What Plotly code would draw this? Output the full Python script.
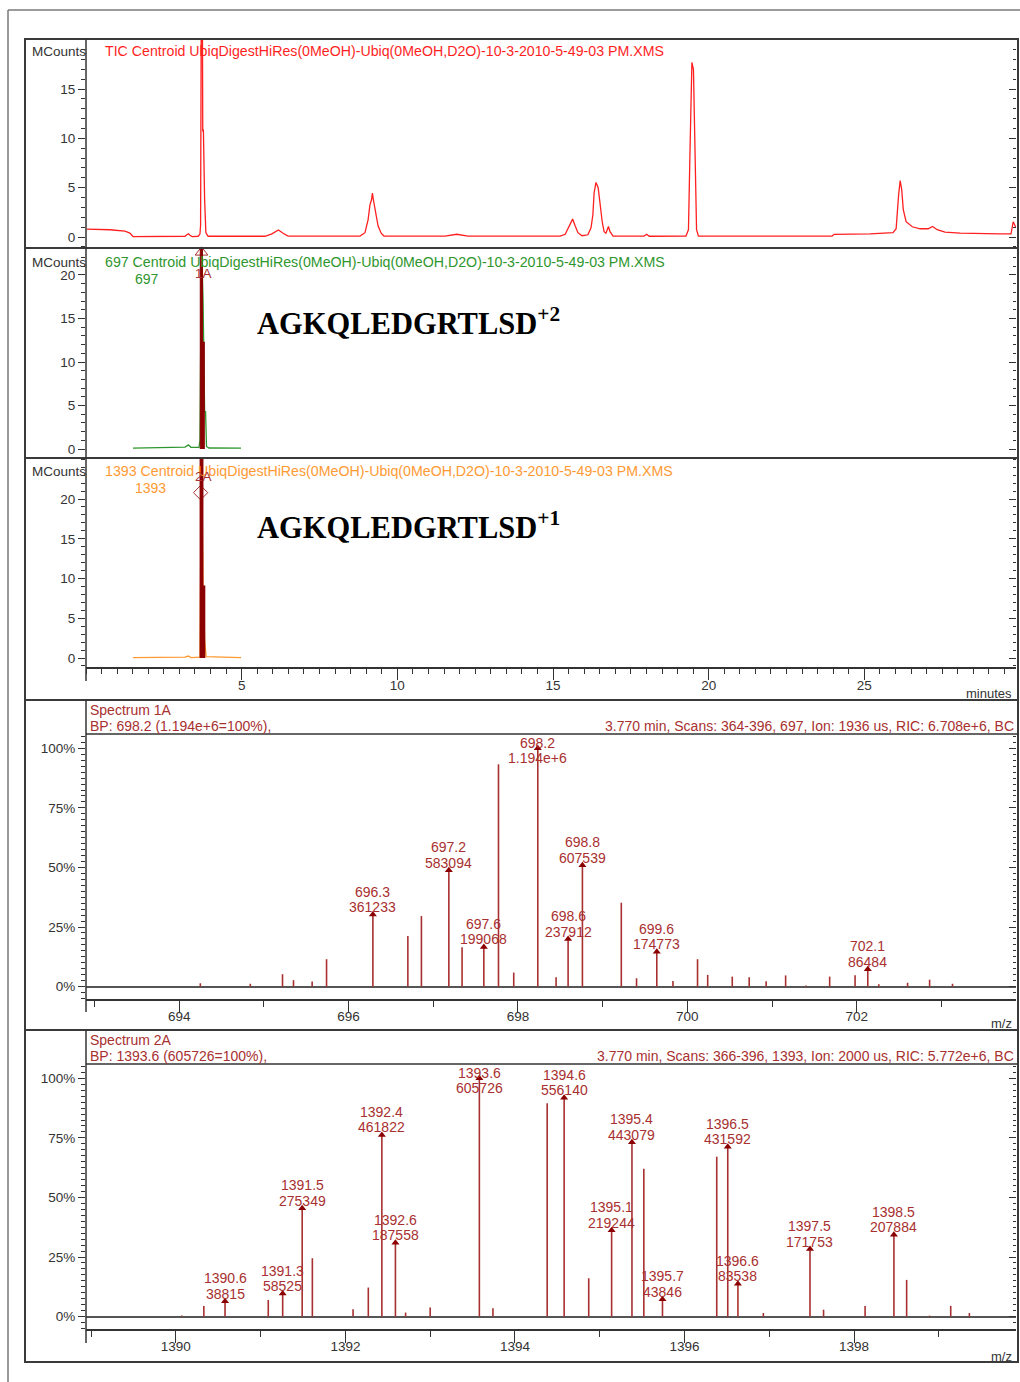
import plotly.graph_objects as go

W, H = 1020, 1382
def PX(p): return p / W
def PY(p): return 1 - p / H

SANS = "Liberation Sans, Arial, sans-serif"
SERIF = "Liberation Serif, Times New Roman, serif"

# ---------------- data ----------------
tic_time = [0.02, 0.77, 1.25, 1.41, 1.51, 2.38, 3.18, 3.24, 3.29, 3.34, 3.41, 3.60, 3.66,
            3.68, 3.70, 3.74, 3.75, 3.77, 3.81, 3.85, 3.92, 5.75, 5.97, 6.18, 6.33, 6.49,
            8.80, 8.96, 9.06, 9.12, 9.17, 9.20, 9.23, 9.27, 9.32, 9.38, 9.48, 9.57, 11.53,
            11.91, 12.27, 15.23, 15.39, 15.48, 15.63, 15.71, 15.80, 15.93, 16.12, 16.22,
            16.28, 16.32, 16.38, 16.45, 16.51, 16.58, 16.64, 16.70, 16.78, 16.83, 16.93,
            17.92, 18.01, 18.09, 19.27, 19.35, 19.40, 19.46, 19.51, 19.56, 19.61, 19.67,
            23.96, 24.03, 25.18, 25.92, 26.02, 26.10, 26.15, 26.20, 26.25, 26.34, 26.54,
            26.79, 27.05, 27.19, 27.34, 27.59, 28.08, 29.36, 29.71, 29.78, 29.83, 29.87]
tic_mcounts = [0.81, 0.74, 0.59, 0.40, 0.05, 0.05, 0.08, 0.23, 0.33, 0.18, 0.05, 0.08, 0.30,
               1.2, 21.0, 21.0, 10.7, 10.9, 3.8, 0.45, 0.08, 0.08, 0.33, 0.71, 0.39, 0.10,
               0.10, 0.44, 1.75, 3.27, 3.78, 4.46, 3.78, 3.07, 2.36, 1.14, 0.39, 0.10, 0.10,
               0.28, 0.10, 0.10, 0.28, 0.84, 1.82, 1.14, 0.44, 0.13, 0.23, 0.94,
               2.26, 4.49, 5.53, 5.00, 3.27, 1.55, 0.54, 0.39, 1.07, 0.54, 0.10,
               0.10, 0.28, 0.08, 0.10, 0.74, 8.8, 17.7, 17.0, 6.8, 0.74, 0.10,
               0.10, 0.28, 0.33, 0.44, 0.84, 4.29, 5.73, 4.79, 2.77, 1.55, 1.04,
               0.84, 0.84, 1.07, 0.74, 0.49, 0.39, 0.33, 0.33, 1.55, 1.25, 0.94]

eic697_time = [1.51, 3.02, 3.18, 3.29, 3.37, 3.63, 3.66, 3.71, 3.76, 3.81, 3.84, 3.87, 3.95, 4.98]
eic697_mcounts = [0.10, 0.17, 0.23, 0.48, 0.20, 0.20, 1.0, 24.0, 17.0, 4.3, 4.3, 0.3, 0.12, 0.10]
peak1A_time = [3.67, 3.67, 3.74, 3.74, 3.80, 3.80]
peak1A_mcounts = [0, 24.0, 24.0, 12.3, 12.3, 0]

eic1393_time = [1.51, 3.18, 3.29, 3.37, 3.66, 3.71, 3.76, 3.81, 3.86, 4.98]
eic1393_mcounts = [0.04, 0.10, 0.25, 0.06, 0.10, 26.0, 9.9, 2.3, 0.16, 0.04]
peak2A_time = [3.68, 3.68, 3.74, 3.74, 3.80, 3.80]
peak2A_mcounts = [0, 26.0, 26.0, 9.0, 9.0, 0]

spec1_base = 1194000
spec1_mz = [694.25, 694.84, 695.22, 695.35, 695.57, 695.74, 696.70, 696.86, 697.34, 697.77,
            697.95, 698.45, 699.22, 699.40, 699.83, 700.12, 700.24, 700.53, 700.73, 700.93,
            701.16, 701.40, 701.68, 701.98, 702.26, 702.60, 702.86, 703.13]
spec1_pct = [1.4, 1.2, 5.2, 2.7, 2.1, 11.5, 21.2, 29.6, 16.5, 93.3,
             5.9, 3.9, 35.2, 3.5, 2.4, 11.5, 4.9, 4.2, 3.9, 2.2,
             4.7, 0.5, 4.2, 4.8, 1.0, 1.6, 2.9, 1.2]
spec1_label_mz = [696.287, 697.184, 697.597, 698.234, 698.592, 698.761, 699.639, 702.130]
spec1_label_counts = [361233, 583094, 199068, 1194000, 237912, 607539, 174773, 86484]

spec2_base = 605726
spec2_mz = [1390.07, 1390.33, 1391.09, 1391.61, 1392.09, 1392.27, 1392.71, 1393.00, 1393.74,
            1394.38, 1394.87, 1395.52, 1396.38, 1396.93, 1397.64, 1398.13, 1398.62, 1398.89,
            1399.14, 1399.36]
spec2_pct = [0.5, 4.5, 7.0, 24.5, 3.1, 12.2, 1.7, 3.8, 3.5,
             89.5, 16.1, 62.0, 67.1, 1.5, 2.9, 4.5, 15.4, 0.4,
             4.5, 1.5]
spec2_label_mz = [1390.58, 1391.26, 1391.49, 1392.43, 1392.59, 1393.58, 1394.58, 1395.14,
                  1395.38, 1395.74, 1396.51, 1396.63, 1397.48, 1398.47]
spec2_label_counts = [38815, 58525, 275349, 461822, 187558, 605726, 556140, 219244,
                      443079, 43846, 431592, 83538, 171753, 207884]

chrom_ticks = [0, 5, 10, 15, 20]
chrom_xticks = [5, 10, 15, 20, 25]
pct_ticks = [0, 25, 50, 75, 100]
spec1_xticks = [694, 696, 698, 700, 702]
spec2_xticks = [1390, 1392, 1394, 1396, 1398]

# ---------------- colours ----------------
RED = "#ff1f1f"
GREEN = "#2e962e"
ORANGE = "#ff9a33"
BROWN = "#a83030"
DARKRED = "#8b0000"
AX = "#333333"

fig = go.Figure()

def stick_xy(mz, pct):
    xs, ys = [], []
    for m, p in zip(mz, pct):
        xs += [m, m, None]
        ys += [0, p, None]
    return xs, ys

# chromatograms
fig.add_trace(go.Scatter(x=tic_time, y=tic_mcounts, mode="lines", line=dict(color=RED, width=1.3),
                         xaxis="x", yaxis="y", showlegend=False))
fig.add_trace(go.Scatter(x=eic697_time, y=eic697_mcounts, mode="lines", line=dict(color=GREEN, width=1.3),
                         xaxis="x2", yaxis="y3", showlegend=False))
fig.add_trace(go.Scatter(x=[3.71], y=[22.6], mode="markers", cliponaxis=False,
                         marker=dict(symbol="triangle-up-open", size=11, color=BROWN, line=dict(width=1)),
                         xaxis="x2", yaxis="y3", showlegend=False))
fig.add_trace(go.Scatter(x=peak1A_time, y=peak1A_mcounts, mode="lines", fill="toself", fillcolor=DARKRED,
                         line=dict(color=DARKRED, width=1), xaxis="x2", yaxis="y3", showlegend=False))
fig.add_trace(go.Scatter(x=eic1393_time, y=eic1393_mcounts, mode="lines", line=dict(color=ORANGE, width=1.3),
                         xaxis="x3", yaxis="y5", showlegend=False))
fig.add_trace(go.Scatter(x=[3.68], y=[20.8], mode="markers", cliponaxis=False,
                         marker=dict(symbol="diamond-open", size=11, color=BROWN, line=dict(width=1)),
                         xaxis="x3", yaxis="y5", showlegend=False))
fig.add_trace(go.Scatter(x=peak2A_time, y=peak2A_mcounts, mode="lines", fill="toself", fillcolor=DARKRED,
                         line=dict(color=DARKRED, width=2), xaxis="x3", yaxis="y5", showlegend=False))

# spectra
for mz, pct, lmz, lcounts, base, xa, ya in [
        (spec1_mz, spec1_pct, spec1_label_mz, spec1_label_counts, spec1_base, "x4", "y7"),
        (spec2_mz, spec2_pct, spec2_label_mz, spec2_label_counts, spec2_base, "x5", "y9")]:
    lpct = [c / base * 100 for c in lcounts]
    xs, ys = stick_xy(mz + lmz, pct + lpct)
    fig.add_trace(go.Scatter(x=xs, y=ys, mode="lines", line=dict(color=BROWN, width=1.6),
                             xaxis=xa, yaxis=ya, showlegend=False))
    fig.add_trace(go.Scatter(x=lmz, y=lpct, mode="markers", cliponaxis=False,
                             marker=dict(symbol="triangle-up", size=7, color=DARKRED),
                             xaxis=xa, yaxis=ya, showlegend=False))
    for m, c, p in zip(lmz, lcounts, lpct):
        top = min(p, 92.6)
        ctext = f"{c/1e6:.3f}e+6" if c >= 1e6 else str(c)
        for txt, sh in [(f"{m:.1f}", 23), (ctext, 7.5)]:
            fig.add_annotation(x=m, y=top, xref=xa, yref=ya, text=txt, showarrow=False,
                               yanchor="middle", yshift=sh,
                               font=dict(family=SANS, size=14, color=BROWN))

# empty traces for right-side tick axes
for ya, xa in [("y2", "x"), ("y4", "x2"), ("y6", "x3"), ("y8", "x4"), ("y10", "x5")]:
    fig.add_trace(go.Scatter(x=[None], y=[None], xaxis=xa, yaxis=ya, showlegend=False))

XD = [PX(86), PX(1016)]

def left_y(dom, rng, tickvals, minor_dt, suffix=""):
    return dict(domain=[PY(dom[1]), PY(dom[0])], range=rng, tickmode="array", tickvals=tickvals,
                ticktext=[f"{v}{suffix}" for v in tickvals], ticks="outside",
                ticklen=7, tickwidth=1.2, tickcolor=AX, showgrid=False, zeroline=False,
                showline=False,
                tickfont=dict(family=SANS, size=13.5, color=AX),
                minor=dict(dtick=minor_dt, ticks="outside", ticklen=4, tickcolor=AX, tickwidth=1, showgrid=False))

def right_y(over, anchor, rng, tickvals, minor_dt):
    return dict(overlaying=over, anchor=anchor, side="right", range=rng, tickvals=tickvals,
                ticks="inside", ticklen=7, tickwidth=1.2, tickcolor=AX, showticklabels=False,
                showgrid=False, zeroline=False, showline=False,
                minor=dict(dtick=minor_dt, ticks="inside", ticklen=3, tickcolor=AX, tickwidth=1, showgrid=False))

def hidden_x(anchor, rng):
    return dict(domain=XD, anchor=anchor, range=rng, showticklabels=False, ticks="",
                showgrid=False, zeroline=False, showline=False)

def bottom_x(anchor, rng, tickvals, minor_dt, ticklen, minorlen, standoff):
    return dict(domain=XD, anchor=anchor, range=rng, tickvals=tickvals, ticks="outside",
                ticklen=ticklen, tickwidth=1.2, tickcolor=AX, showline=True, linecolor=AX, linewidth=1.5,
                showgrid=False, zeroline=False, ticklabelstandoff=standoff,
                tickfont=dict(family=SANS, size=13.5, color=AX),
                minor=dict(dtick=minor_dt, ticks="outside", ticklen=minorlen, tickcolor=AX, tickwidth=1,
                           showgrid=False))

r1 = [-1.11, 20.07]
r2 = [-1.03, 23.1]
r3 = [-1.13, 25.16]
rs = [-5.2, 106]
trange = [0, 29.87]

layout = dict(
    width=W, height=H, margin=dict(l=0, r=0, t=0, b=0),
    paper_bgcolor="white", plot_bgcolor="rgba(0,0,0,0)", showlegend=False,
    font=dict(family=SANS, color=AX),
    xaxis=hidden_x("y", trange),
    yaxis=left_y((39, 248), r1, chrom_ticks[:4], 1),
    yaxis2=right_y("y", "x", r1, chrom_ticks[:4], 1),
    xaxis2=hidden_x("y3", trange),
    yaxis3=left_y((248, 458), r2, chrom_ticks, 1),
    yaxis4=right_y("y3", "x2", r2, chrom_ticks, 1),
    xaxis3=bottom_x("y5", trange, chrom_xticks, 0.5, 11, 5, -6),
    yaxis5=left_y((458, 667), r3, chrom_ticks, 1),
    yaxis6=right_y("y5", "x3", r3, chrom_ticks, 1),
    xaxis4=bottom_x("y7", [692.90, 703.88], spec1_xticks, 1, 12, 6, -8),
    yaxis7=dict(left_y((734, 999), rs, pct_ticks, 2.5, "%"), zeroline=True, zerolinecolor="#555555",
                zerolinewidth=1.5),
    yaxis8=right_y("y7", "x4", rs, pct_ticks, 2.5),
    xaxis5=bottom_x("y9", [1388.94, 1399.91], spec2_xticks, 1, 12, 6, -8),
    yaxis9=dict(left_y((1064, 1329), rs, pct_ticks, 2.5, "%"), zeroline=True, zerolinecolor="#555555",
                zerolinewidth=1.5),
    yaxis10=right_y("y9", "x5", rs, pct_ticks, 2.5),
)
fig.update_layout(**layout)

# ---------------- frames / lines ----------------
shapes = []
def line(x0, y0, x1, y1, color=AX, width=1.5):
    shapes.append(dict(type="line", xref="paper", yref="paper", x0=PX(x0), y0=PY(y0), x1=PX(x1), y1=PY(y1),
                       line=dict(color=color, width=width), layer="above"))
# outer frame
line(8, 10, 8, 1382, "#7a7a7a", 1.5)
line(8, 10, 1020, 10, "#7a7a7a", 1.5)
# panel boxes
for y0, y1 in [(39, 248), (248, 458), (458, 700), (700, 1030), (1030, 1362)]:
    shapes.append(dict(type="rect", xref="paper", yref="paper", x0=PX(25), x1=PX(1018), y0=PY(y1), y1=PY(y0),
                       line=dict(color="#3a3a3a", width=2), layer="above"))
# y-axis lines
line(86, 39, 86, 681)
line(86, 700, 86, 1012)
line(86, 1030, 86, 1343)
# spectrum plot tops
line(86, 734, 1018, 734)
line(86, 1064, 1018, 1064)
fig.update_layout(shapes=shapes)

# ---------------- texts ----------------
def note(text, x, y, color=AX, size=13, xanchor="left", family=SANS):
    fig.add_annotation(text=text, x=PX(x), y=PY(y), xref="paper", yref="paper", showarrow=False,
                       xanchor=xanchor, yanchor="middle", font=dict(family=family, size=size, color=color))

title_tail = "Centroid UbiqDigestHiRes(0MeOH)-Ubiq(0MeOH,D2O)-10-3-2010-5-49-03 PM.XMS"
for y, col, name in [(51, RED, "TIC"), (262, GREEN, "697"), (471, ORANGE, "1393")]:
    note("MCounts", 30, y, AX, 13.5)
    note(f"{name} {title_tail}", 103, y, col, 14.2)
note("697", 133, 279, GREEN, 14)
note("1393", 133, 488, ORANGE, 14)
note("1A", 203, 274, BROWN, 13.5, "center")
note("2A", 203, 477, BROWN, 13.5, "center")
note("<b>AGKQLEDGRTLSD<sup>+2</sup></b>", 255, 321, "black", 30.5, "left", SERIF)
note("<b>AGKQLEDGRTLSD<sup>+1</sup></b>", 255, 525, "black", 30.5, "left", SERIF)
note("minutes", 1014, 693, AX, 13, "right")

note("Spectrum 1A", 88, 710, BROWN, 14)
note("BP: 698.2 (1.194e+6=100%),", 88, 726, BROWN, 14)
note("3.770 min, Scans: 364-396, 697, Ion: 1936 us, RIC: 6.708e+6, BC", 1016, 726, BROWN, 14, "right")
note("m/z", 1014, 1023, AX, 13, "right")

note("Spectrum 2A", 88, 1040, BROWN, 14)
note("BP: 1393.6 (605726=100%),", 88, 1056, BROWN, 14)
note("3.770 min, Scans: 366-396, 1393, Ion: 2000 us, RIC: 5.772e+6, BC", 1016, 1056, BROWN, 14, "right")
note("m/z", 1014, 1356, AX, 13, "right")

fig.write_html("out.html")
